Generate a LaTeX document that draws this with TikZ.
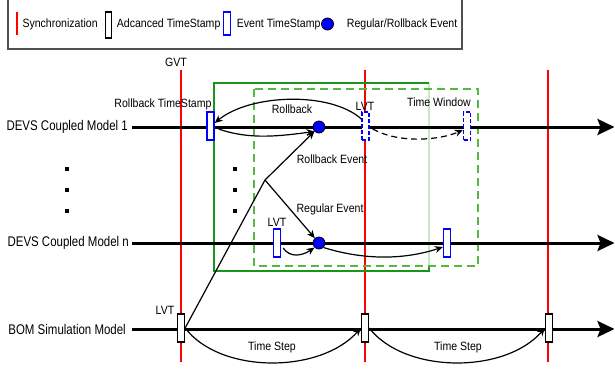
\documentclass[tikz,border=0pt]{standalone}
\usepackage{fontspec}
\setmainfont{Liberation Sans}[FakeStretch=0.88]
\newfontfamily\labelfont{Liberation Sans}[FakeStretch=0.82]
\usetikzlibrary{arrows.meta}
\definecolor{solidgreen}{RGB}{25,150,25}
\definecolor{dashgreen}{RGB}{85,185,65}
\definecolor{fadegreen}{RGB}{200,232,196}
\definecolor{legframe}{RGB}{80,80,80}
\begin{document}
\begin{tikzpicture}[x=1pt,y=-1pt,
  every node/.style={font=\fontsize{12}{14}\selectfont, inner sep=0pt},
  sync/.style={draw=red, line width=1.3pt},
  timeline/.style={line width=3pt, -{Stealth[length=17pt,width=16pt,inset=3pt]}},
  ets/.style={draw=blue, line width=1.3pt, fill=white, minimum width=7pt, minimum height=28pt},
  etsd/.style={ets, dashed, dash pattern=on 4pt off 2pt},
  ats/.style={draw=black, line width=1.3pt, fill=white, minimum width=7pt, minimum height=28pt},
  evt/.style={circle, fill=blue, draw=black, line width=0.8pt, minimum size=12pt},
  conn/.style={line width=1.2pt, -{Stealth[length=8pt,width=7pt]}},
  model/.style={font=\labelfont\fontsize{14}{16}\selectfont, anchor=east},
  dotmark/.style={fill=black, minimum size=3.2pt},
]
\useasboundingbox (0,0) rectangle (615,370);
\clip (0,0) rectangle (615,370);

% legend
\node (legbox) [draw=legframe, line width=1.4pt, minimum width=454pt, minimum height=52pt] at (235,23) {};
\coordinate (legsynA) at (17,12);
\coordinate (legsynB) at (17,35);
\draw[sync] (legsynA) -- (legsynB);
\node (legsyn) [anchor=west] at (22.3,24) {Synchronization};
\node (legats) [draw=black, line width=1.3pt, minimum width=5.5pt, minimum height=26pt] at (108.5,25) {};
\node (legatsT) [anchor=west] at (116.7,24) {Adcanced TimeStamp};
\node (legets) [draw=blue, line width=1.3pt, minimum width=7pt, minimum height=23pt] at (227,23.5) {};
\node (legetsT) [anchor=west] at (236.7,24) {Event TimeStamp};
\node (legevt) [evt] at (327.5,24) {};
\node (legevtT) [anchor=west] at (346.7,24) {Regular/Rollback Event};

% synchronization lines
\coordinate (s1t) at (181,70);  \coordinate (s1b) at (181,362);
\coordinate (s2t) at (365,70);  \coordinate (s2b) at (365,362);
\coordinate (s3t) at (548,70);  \coordinate (s3b) at (548,362);
\draw[sync] (s1t) -- (s1b);
\draw[sync] (s2t) -- (s2b);
\draw[sync] (s3t) -- (s3b);
\node (gvt) at (176,62) {GVT};

% green windows
\coordinate (gA) at (429,83);
\coordinate (gB) at (214,83);
\coordinate (gC) at (214,271);
\coordinate (gD) at (429,271);
\coordinate (gE) at (429,266);
\draw[fadegreen, line width=2pt] (gA) -- (gE);
\draw[solidgreen, line width=2pt] (gA) -- (gB) -- (gC) -- (gD) -- (gE);
\coordinate (dA) at (254,89);
\coordinate (dB) at (478,266);
\draw[dashgreen, line width=2pt, dash pattern=on 8pt off 5pt] (dA) rectangle (dB);

% model labels and timelines
\node[model] (m1) at (128,127) {DEVS Coupled Model 1};
\node[model] (mn) at (129,243) {DEVS Coupled Model n};
\node[model] (mb) at (126,329) {BOM Simulation Model};
\coordinate (l1s) at (132,127); \coordinate (l1e) at (614.5,127);
\coordinate (lns) at (132,243); \coordinate (lne) at (614.5,243);
\coordinate (lbs) at (132,329); \coordinate (lbe) at (614.5,329);
\draw[timeline] (l1s) -- (l1e);
\draw[timeline] (lns) -- (lne);
\draw[timeline] (lbs) -- (lbe);

% vertical dots
\node[dotmark] (d1) at (67,169) {};
\node[dotmark] (d2) at (67,190) {};
\node[dotmark] (d3) at (67,211) {};
\node[dotmark] (d4) at (235,169) {};
\node[dotmark] (d5) at (235,190) {};
\node[dotmark] (d6) at (235,211) {};

% time stamps and events
\node[ets]  (rbts) at (210.5,126) {};
\node[etsd] (lvt1) at (365.5,126) {};
\node[etsd] (tw1)  at (467,126) {};
\node[evt]  (ev1)  at (319,127) {};
\node[ets]  (lvtn) at (277,243) {};
\node[evt]  (evn)  at (319,243) {};
\node[ets]  (tsn)  at (447,243) {};
\node[ats]  (b1) at (181,328) {};
\node[ats]  (b2) at (365,328) {};
\node[ats]  (b3) at (549,328) {};
\coordinate (fork) at (265,180);

% connectors
\draw[conn] ([yshift=7pt]lvt1.west) .. controls (330,91) and (250,94) .. ([yshift=3pt]rbts.east);
\draw[conn] ([shift={(4pt,-3pt)}]rbts.east) .. controls (250,140) and (280,136) .. (ev1.south west);
\draw[line width=1.2pt] (b1.east) -- (fork);
\draw[conn] (fork) -- (ev1);
\draw[conn] (fork) -- (evn);
\draw[conn] ([shift={(2pt,-5pt)}]lvtn.east) .. controls (290,258) and (302,256) .. (evn.south west);
\draw[conn] (evn.south east) .. controls (370,262) and (410,258) .. ([yshift=-4pt]tsn.west);
\draw[conn, dash pattern=on 6pt off 4pt] ([shift={(3pt,-3pt)}]lvt1.east) .. controls (400,144) and (440,140) .. ([yshift=-4pt]tw1.west);
\draw[conn] (b1.east) .. controls (220,374) and (320,374) .. (b2.west);
\draw[conn] (b2.east) .. controls (405,374) and (505,374) .. (b3.west);

% labels
\node (lblrbts) at (163,104) {Rollback TimeStamp};
\node (lblrb)   at (292,109) {Rollback};
\node (lbllvt1) at (365,106) {LVT};
\node (lbltw)   at (439,102) {Time Window};
\node (lblrbe)  at (332,159) {Rollback Event};
\node (lblreg)  at (330,209) {Regular Event};
\node (lbllvtn) at (277,222) {LVT};
\node (lbllvtb) at (165,310) {LVT};
\node (lblts1)  at (272,347) {Time Step};
\node (lblts2)  at (458,347) {Time Step};
\end{tikzpicture}
\end{document}
